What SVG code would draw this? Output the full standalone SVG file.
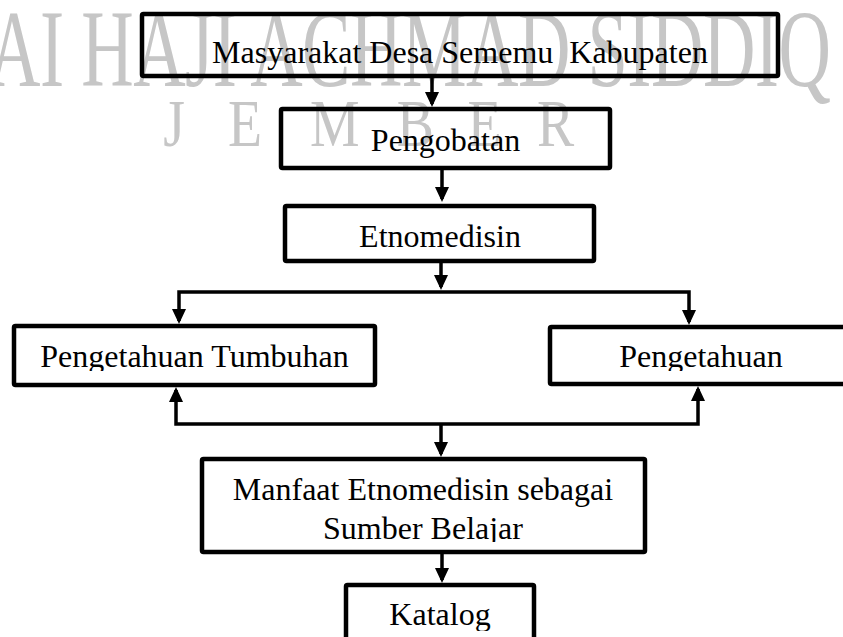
<svg xmlns="http://www.w3.org/2000/svg" width="843" height="637" viewBox="0 0 843 637">
<style>
.wm{font-family:"Liberation Serif","Times New Roman",serif;fill:#c6c6c6}
.box{fill:none;stroke:#000;stroke-width:4.5;stroke-linejoin:round}
.t{font-family:"Liberation Serif","Times New Roman",serif;font-size:32px;fill:#000;text-anchor:middle}
.c{fill:none;stroke:#000;stroke-width:3.5;stroke-linejoin:miter}
</style>
<defs>
<marker id="ah" viewBox="0 0 15 14" refX="12" refY="7" markerWidth="15" markerHeight="14" markerUnits="userSpaceOnUse" orient="auto-start-reverse">
<path d="M0,0 L15,7 L0,14 z" fill="#000"/>
</marker>
<clipPath id="clipPT"><rect x="0" y="320" width="400" height="51"/></clipPath>
<clipPath id="clipP"><rect x="540" y="320" width="303" height="51"/></clipPath>
<clipPath id="clipM"><rect x="190" y="455" width="470" height="87"/></clipPath>
<clipPath id="clipK"><rect x="340" y="580" width="200" height="51"/></clipPath>
</defs>
<rect width="843" height="637" fill="#fff"/>
<g id="watermark">
<text class="wm" transform="translate(-12,86) scale(0.66,1)" x="0" y="0" font-size="110" letter-spacing="-0.76">AI HAJI ACHMAD SIDDIQ</text>
<text class="wm" transform="translate(0,146) scale(0.82,1)" x="199 278 378 484 570 655" y="0" font-size="68">JEMBER</text>
</g>
<g id="connectors">
<path class="c" d="M432,78 L432,104" marker-end="url(#ah)"/>
<path class="c" d="M442,170 L442,199" marker-end="url(#ah)"/>
<path class="c" d="M441,263 L441,287" marker-end="url(#ah)"/>
<path class="c" d="M179,321 L179,292 L689,292 L689,322" marker-start="url(#ah)" marker-end="url(#ah)"/>
<path class="c" d="M176,390 L176,424 L698,424 L698,389" marker-start="url(#ah)" marker-end="url(#ah)"/>
<path class="c" d="M441,424 L441,454" marker-end="url(#ah)"/>
<path class="c" d="M442,554 L442,580" marker-end="url(#ah)"/>
</g>
<g id="masyarakat">
<rect class="box" x="142" y="14" width="636" height="62" rx="1.5"/>
<text class="t" x="460" y="63" xml:space="preserve">Masyarakat Desa Sememu  Kabupaten</text>
</g>
<g id="pengobatan">
<rect class="box" x="281" y="109" width="329" height="59" rx="1.5"/>
<text class="t" x="445.5" y="151">Pengobatan</text>
</g>
<g id="etnomedisin">
<rect class="box" x="285" y="206" width="309" height="55" rx="1.5"/>
<text class="t" x="440" y="247">Etnomedisin</text>
</g>
<g id="pengetahuan-tumbuhan">
<rect class="box" x="14" y="326" width="361" height="59" rx="1.5"/>
<text class="t" x="194.5" y="367" clip-path="url(#clipPT)">Pengetahuan Tumbuhan</text>
</g>
<g id="pengetahuan">
<rect class="box" x="550" y="327" width="302" height="57" rx="1.5"/>
<text class="t" x="701" y="367" clip-path="url(#clipP)">Pengetahuan</text>
</g>
<g id="manfaat">
<rect class="box" x="202" y="459" width="443" height="93" rx="1.5"/>
<g clip-path="url(#clipM)">
<text class="t" x="423" y="500">Manfaat Etnomedisin sebagai</text>
<text class="t" x="423" y="539">Sumber Belajar</text>
</g>
</g>
<g id="katalog">
<rect class="box" x="346" y="585" width="188" height="70" rx="1.5"/>
<text class="t" x="440" y="625" clip-path="url(#clipK)">Katalog</text>
</g>
</svg>
